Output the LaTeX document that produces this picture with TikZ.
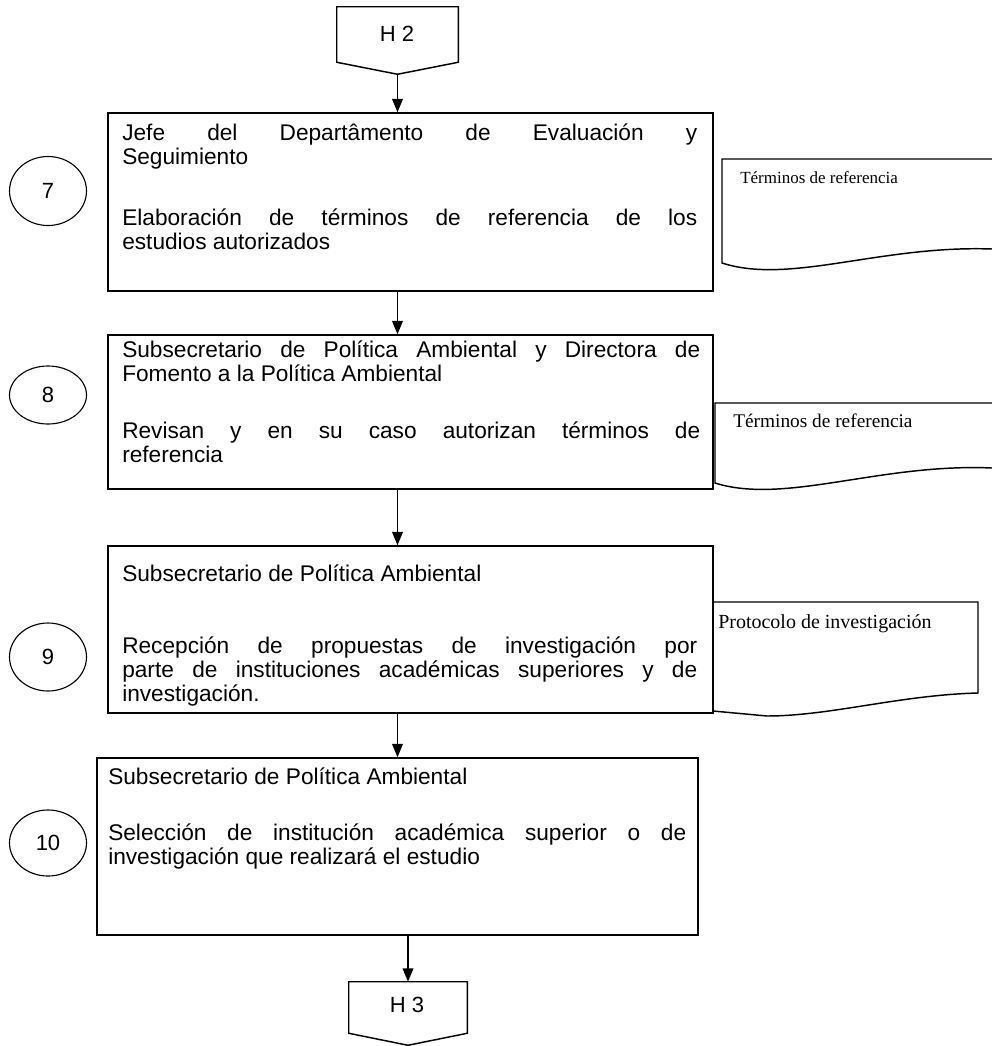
\documentclass[tikz,border=0pt]{standalone}
\usepackage{fontspec}
\setmainfont{Liberation Sans}
\newfontfamily\serifdoc{Liberation Serif}
\usetikzlibrary{arrows.meta,shapes.geometric,calc}
\begin{document}
\begin{tikzpicture}[x=0.75pt,y=-0.75pt,
  line/.style={line width=1.1pt,line join=miter},
  box/.style={draw,line width=1.1pt,rectangle,inner sep=0pt},
  conn/.style={rectangle,inner sep=0pt,minimum width=90.75pt,minimum height=50.25pt},
  num/.style={draw,line width=0.85pt,ellipse,minimum width=57.75pt,inner sep=0pt,font=\fontsize{16.5}{18}\selectfont},
  arr/.style={line width=1.1pt,-{Triangle[length=10pt,width=8pt]}},
  btext/.style={anchor=base west,inner sep=0pt},
  dtext/.style={anchor=base west,inner sep=0pt},
  lbl/.style={inner sep=0pt,font=\fontsize{16.5}{18}\selectfont}]
\useasboundingbox (0,0) rectangle (992,1046);

% off-page connector H2
\node[conn] (h2) at (397.5,40.5) {};
\draw[line] (h2.north west) -- (h2.north east) -- ($(h2.south east)+(0,-12)$) -- (h2.south) -- ($(h2.south west)+(0,-12)$) -- cycle;
\node[lbl] (h2t) at (397,34) {H 2};

% process boxes
\node[box,minimum width=453.75pt,minimum height=133.5pt] (b1) at (410.5,202) {};
\node[box,minimum width=453.75pt,minimum height=115.5pt] (b2) at (410.5,412) {};
\node[box,minimum width=453.75pt,minimum height=125.25pt] (b3) at (410.5,629.5) {};
\node[box,minimum width=450.75pt,minimum height=132.75pt] (b4) at (397.5,846.5) {};

% box texts
\node[btext] (t1) at (122,140) {\parbox[t]{431.25pt}{\fontsize{17}{18}\selectfont
Jefe del Departâmento de Evaluación y\linebreak Seguimiento\\[28pt]
Elaboración de términos de referencia de los\linebreak estudios autorizados}};
\node[btext] (t2) at (122,357) {\parbox[t]{433.5pt}{\fontsize{17}{18}\selectfont
Subsecretario de Política Ambiental y Directora de\linebreak Fomento a la Política Ambiental\\[25pt]
Revisan y en su caso autorizan términos de\linebreak referencia}};
\node[btext] (t3) at (122,581) {\parbox[t]{431.25pt}{\fontsize{17}{18}\selectfont
Subsecretario de Política Ambiental\\[36pt]
Recepción de propuestas de investigación por\linebreak parte de instituciones académicas superiores y de\linebreak investigación.}};
\node[btext] (t4) at (108,784) {\parbox[t]{433.5pt}{\fontsize{17}{18}\selectfont
Subsecretario de Política Ambiental\\[24pt]
Selección de institución académica superior o de\linebreak investigación que realizará el estudio}};

% step numbers
\node[num,minimum height=51.75pt] (c7) at (48,191) {7};
\node[num,minimum height=43.5pt] (c8) at (48,395) {8};
\node[num,minimum height=51pt] (c9) at (48,657) {9};
\node[num,minimum height=49.5pt] (c10) at (48,843) {10};

% documents
\draw[line] (992,159) -- (722,159) -- (722,263) .. controls (790,285) and (880,245) .. (992,249);
\node[dtext,font=\serifdoc\fontsize{12.75}{14}\selectfont] (d1t) at (740,183) {Términos de referencia};
\draw[line] (992,403) -- (715,403) -- (715,483) .. controls (785,505) and (880,463) .. (992,468);
\node[dtext,font=\serifdoc\fontsize{14.5}{16}\selectfont] (d2t) at (733,427) {Términos de referencia};
\draw[line] (713,602) -- (978,602) -- (978,693) .. controls (900,695) and (830,716) .. (767,716) -- (713,711) -- cycle;
\node[dtext,font=\serifdoc\fontsize{15}{17}\selectfont] (d3t) at (718,628) {Protocolo de investigación};

% off-page connector H3
\node[conn,minimum width=88.5pt,minimum height=47.25pt] (h3) at (408,1013.5) {};
\draw[line] (h3.north west) -- (h3.north east) -- ($(h3.south east)+(0,-12)$) -- (h3.south) -- ($(h3.south west)+(0,-12)$) -- cycle;
\node[lbl] (h3t) at (407,1005) {H 3};

% flow arrows
\draw[arr] (h2.south) -- (h2.south |- b1.north);
\draw[arr] (b1.south -| h2.south) -- (b2.north -| h2.south);
\draw[arr] (b2.south -| h2.south) -- (b3.north -| h2.south);
\draw[arr] (b3.south -| h2.south) -- (b4.north -| h2.south);
\draw[arr] (b4.south -| h3.north) -- (h3.north);
\end{tikzpicture}
\end{document}
